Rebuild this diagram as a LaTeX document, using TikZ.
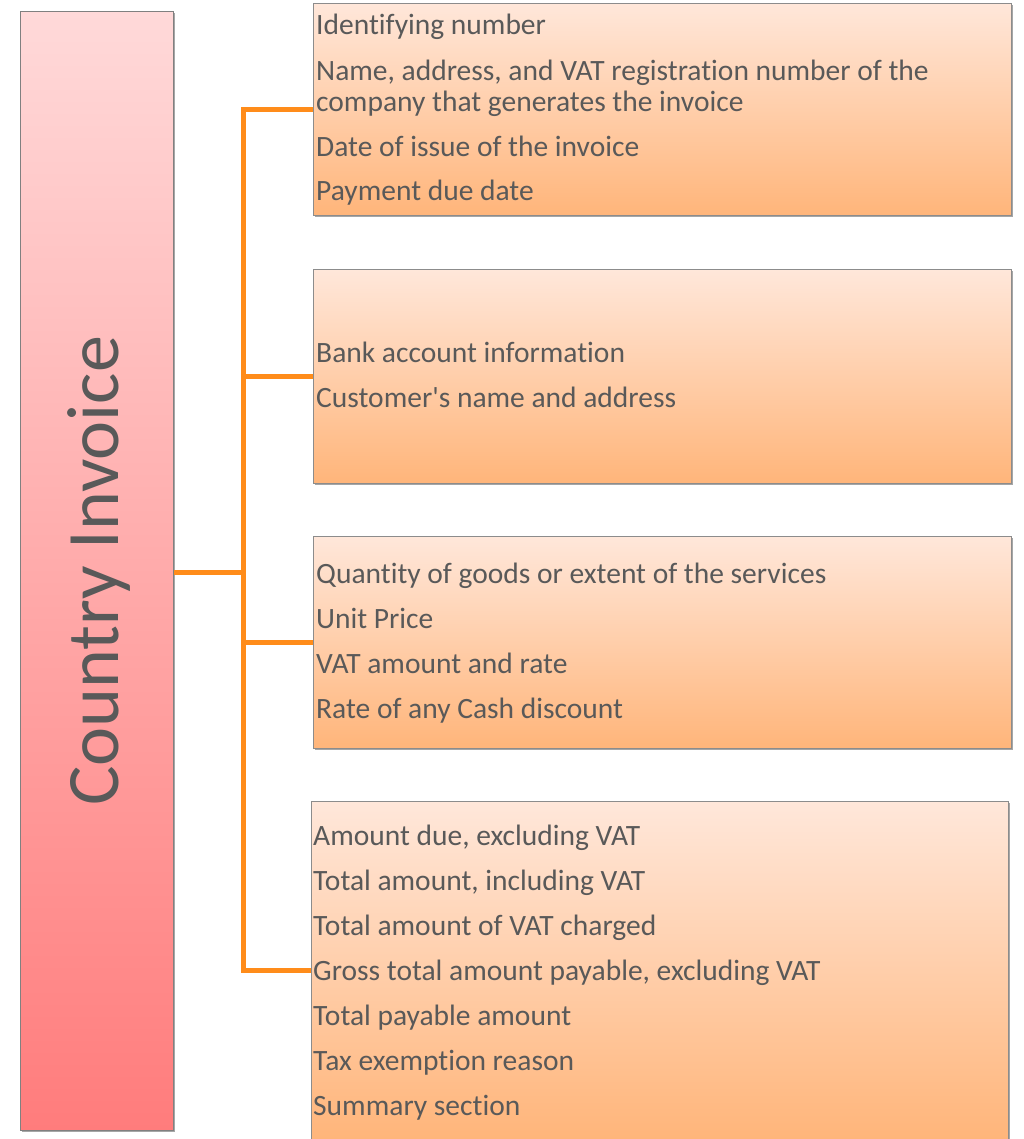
\documentclass[tikz,border=0pt]{standalone}
\usepackage{fontspec}
\setmainfont{Carlito}[Ligatures=NoCommon]
\usetikzlibrary{shadows}
\definecolor{txt}{HTML}{595959}
\definecolor{lnc}{HTML}{FF8C1A}
\definecolor{pinkT}{HTML}{FFD9D9}
\definecolor{pinkB}{HTML}{FF7C7C}
\definecolor{orT}{HTML}{FFE7DA}
\definecolor{orB}{HTML}{FFB57A}
\tikzset{
  box/.style={draw=black!45, line width=0.8pt, top color=orT, bottom color=orB, anchor=north west, inner sep=0pt,
    drop shadow={shadow xshift=2pt, shadow yshift=-2pt, opacity=0.35, fill=black}},
  conn/.style={draw=lnc, line width=5pt},
  item/.style={anchor=base west, inner sep=0pt, text=txt, font=\fontsize{29.5}{32}\selectfont},
}
\begin{document}
\begin{tikzpicture}[x=1pt,y=-1pt]
\clip (0,0) rectangle (1023,1139);
\fill[white] (0,0) rectangle (1023,1139);
% left box
\node[draw=black!50, line width=0.8pt, top color=pinkT, bottom color=pinkB, anchor=north west,
  minimum width=153pt, minimum height=1119pt, inner sep=0pt,
  drop shadow={shadow xshift=2pt, shadow yshift=-2pt, opacity=0.35, fill=black}] (cl) at (20,11) {};
\node[rotate=90, anchor=base, text=txt, font=\fontsize{74}{80}\selectfont, inner sep=0pt] (title) at (118,571) {Country Invoice};
% boxes
\node[box, minimum width=698pt, minimum height=212pt] (b1) at (313,3) {};
\node[box, minimum width=698pt, minimum height=214pt] (b2) at (313,269) {};
\node[box, minimum width=698pt, minimum height=212pt] (b3) at (313,536) {};
\node[box, minimum width=697pt, minimum height=338pt] (b4) at (311,801) {};
% connectors
\coordinate (j) at (243,572);
\draw[conn] (cl.east |- j) -- (j);
\draw[conn] (b1.west) -| (j) |- (b4.west);
\draw[conn] (b2.west) -- (b2.west -| j);
\draw[conn] (b3.west) -- (b3.west -| j);
% texts
\node[item] (t1) at (316,35) {Identifying number};
\node[item] (t2) at (316,81) {Name, address, and VAT registration number of the};
\node[item] (t3) at (316,112) {company that generates the invoice};
\node[item] (t4) at (316,157) {Date of issue of the invoice};
\node[item] (t5) at (316,201) {Payment due date};
\node[item] (t6) at (316,362) {Bank account information};
\node[item] (t7) at (316,407) {Customer\textquotesingle s name and address};
\node[item] (t8) at (316,583) {Quantity of goods or extent of the services};
\node[item] (t9) at (316,628) {Unit Price};
\node[item] (t10) at (316,673) {VAT amount and rate};
\node[item] (t11) at (316,718) {Rate of any Cash discount};
\node[item] (t12) at (313,845) {Amount due, excluding VAT};
\node[item] (t13) at (313,890) {Total amount, including VAT};
\node[item] (t14) at (313,935) {Total amount of VAT charged};
\node[item] (t15) at (313,980) {Gross total amount payable, excluding VAT};
\node[item] (t16) at (313,1025) {Total payable amount};
\node[item] (t17) at (313,1070) {Tax exemption reason};
\node[item] (t18) at (313,1115) {Summary section};
\end{tikzpicture}
\end{document}
